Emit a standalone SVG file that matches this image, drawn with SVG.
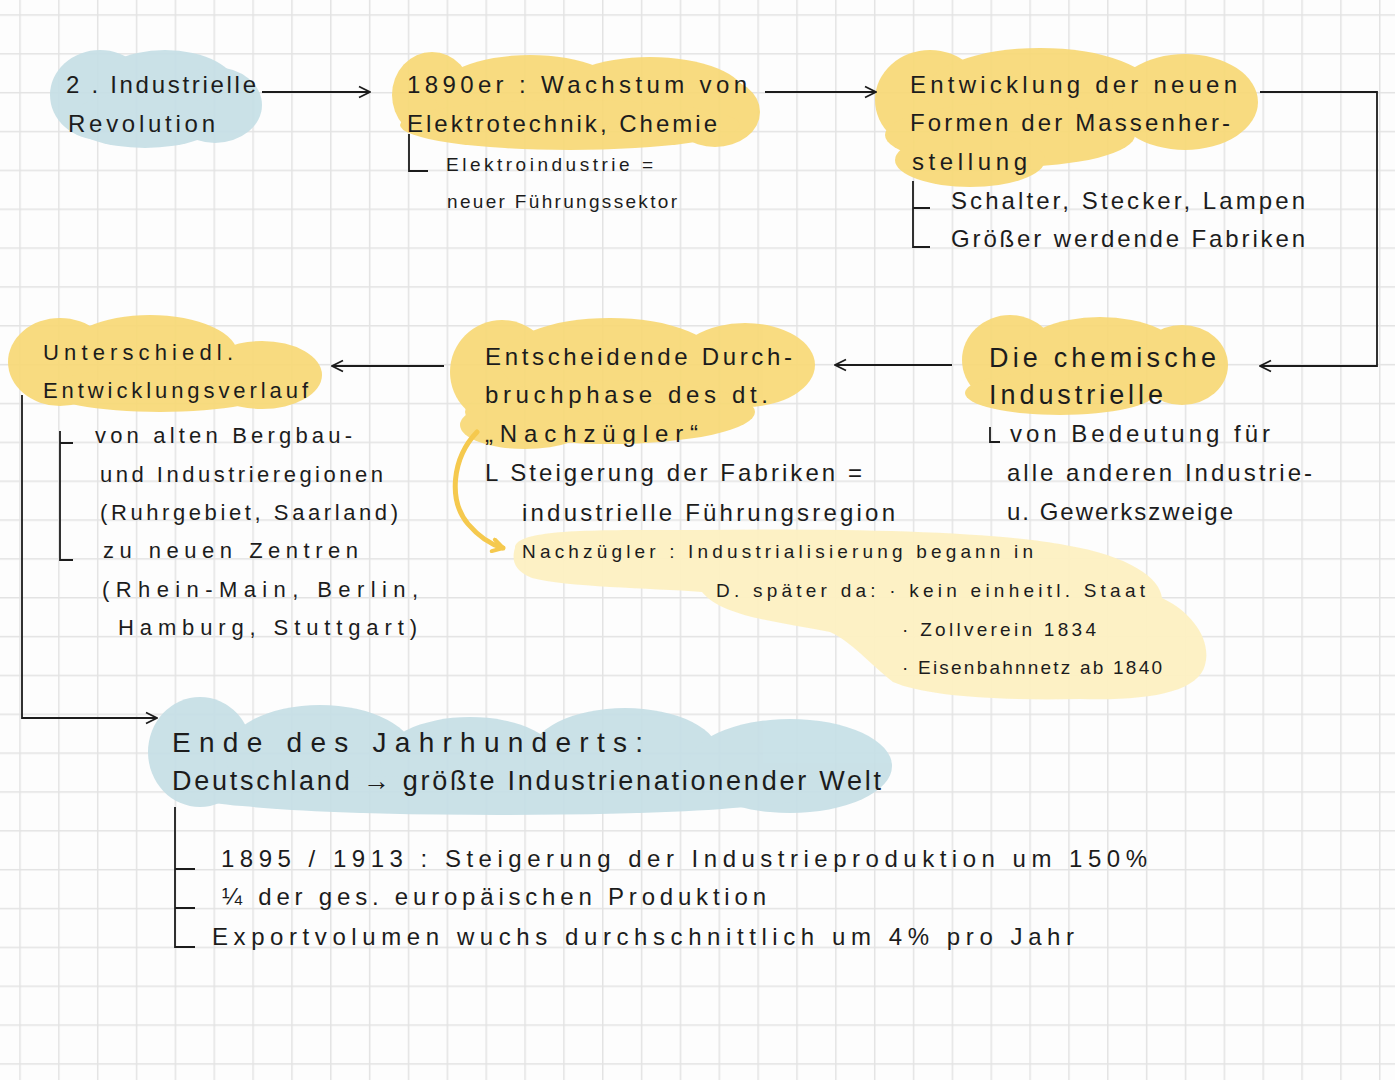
<svg xmlns="http://www.w3.org/2000/svg" width="1395" height="1080" viewBox="0 0 1395 1080">
<style>
text{font-family:"Liberation Sans","DejaVu Sans",sans-serif;fill:#1c1c1c;lengthAdjust:spacing}
.h{font-size:24px}
.s{font-size:22px}
.xs{font-size:19px}
.br{fill:none;stroke:#1c1c1c;stroke-width:1.8}
.con{fill:none;stroke:#1c1c1c;stroke-width:1.8}
.blue ellipse,.blue path{fill:#c6dfe6}
.yel ellipse,.yel path{fill:#f8d976}
.lyel path{fill:#fdf0c2}
</style>
<defs>
<pattern id="grid" width="38.85" height="38.85" patternUnits="userSpaceOnUse" x="19.25" y="14.25">
<path d="M0 0.75H38.85M0.75 0V38.85" stroke="#e3e3e3" stroke-width="1.5" fill="none"/>
</pattern>
<marker id="arr" viewBox="0 0 14 14" refX="13" refY="7" markerWidth="14" markerHeight="14" markerUnits="userSpaceOnUse" orient="auto">
<path d="M2 1.5L13 7L2 12.5" fill="none" stroke="#1c1c1c" stroke-width="1.8"/>
</marker>
<marker id="arrY" viewBox="0 0 16 16" refX="13" refY="8" markerWidth="16" markerHeight="16" markerUnits="userSpaceOnUse" orient="auto">
<path d="M3 2L13 8L3 14" fill="none" stroke="#f5c94e" stroke-width="4" stroke-linecap="round" stroke-linejoin="round"/>
</marker>
</defs>
<rect width="1395" height="1080" fill="#fdfdfd"/>
<rect width="1395" height="1080" fill="url(#grid)"/>

<g id="n-revolution">
<g class="blue" opacity="0.92">
<ellipse cx="100" cy="95" rx="50" ry="45"/>
<ellipse cx="165" cy="88" rx="72" ry="38"/>
<ellipse cx="215" cy="105" rx="47" ry="38"/>
<ellipse cx="145" cy="120" rx="75" ry="28"/>
</g>
<text class="h" x="66" y="93" textLength="190">2 . Industrielle</text>
<text class="h" x="68" y="132" textLength="147">Revolution</text>
</g>

<g id="n-1890er">
<g class="yel" opacity="0.92">
<ellipse cx="432" cy="95" rx="40" ry="43"/>
<ellipse cx="530" cy="95" rx="95" ry="40"/>
<ellipse cx="650" cy="95" rx="95" ry="38"/>
<ellipse cx="715" cy="112" rx="45" ry="35"/>
<ellipse cx="570" cy="125" rx="170" ry="25"/>
</g>
<text class="h" x="407" y="93" textLength="340">1890er : Wachstum von</text>
<text class="h" x="407" y="132" textLength="310">Elektrotechnik, Chemie</text>
<path class="br" d="M409 134V171H428"/>
<text class="xs" x="446" y="171" textLength="207">Elektroindustrie =</text>
<text class="xs" x="447" y="208" textLength="230">neuer Führungssektor</text>
</g>

<g id="n-massenherstellung">
<g class="yel" opacity="0.92">
<ellipse cx="930" cy="100" rx="55" ry="50"/>
<ellipse cx="1040" cy="92" rx="115" ry="44"/>
<ellipse cx="1185" cy="102" rx="73" ry="48"/>
<ellipse cx="1010" cy="135" rx="125" ry="32"/>
<ellipse cx="970" cy="160" rx="75" ry="27"/>
</g>
<text class="h" x="910" y="93" textLength="327">Entwicklung der neuen</text>
<text class="h" x="910" y="131" textLength="320">Formen der Massenher-</text>
<text class="h" x="912" y="170" textLength="115">stellung</text>
<path class="br" d="M913 181V247H930M913 208H930"/>
<text class="h" x="951" y="209" textLength="354">Schalter, Stecker, Lampen</text>
<text class="h" x="951" y="247" textLength="354">Größer werdende Fabriken</text>
</g>

<g id="n-chemisch">
<g class="yel" opacity="0.92">
<ellipse cx="1010" cy="360" rx="48" ry="45"/>
<ellipse cx="1100" cy="355" rx="82" ry="38"/>
<ellipse cx="1182" cy="365" rx="46" ry="40"/>
<ellipse cx="1060" cy="393" rx="95" ry="22"/>
</g>
<text style="font-size:27px" x="989" y="367" textLength="227">Die chemische</text>
<text style="font-size:27px" x="989" y="404" textLength="174">Industrielle</text>
<path class="br" d="M990 427V442H1000"/>
<text class="h" x="1010" y="442" textLength="260">von Bedeutung für</text>
<text class="h" x="1007" y="481" textLength="305">alle anderen Industrie-</text>
<text class="h" x="1007" y="520" textLength="226">u. Gewerkszweige</text>
</g>

<g id="n-nachzuegler-info">
<g class="lyel" opacity="0.95">
<path d="M515 548C515 528 600 530 700 530C850 528 1000 532 1065 545C1130 556 1160 578 1162 598C1192 612 1212 640 1205 665C1198 692 1150 701 1080 699C1000 701 925 696 893 682C870 664 852 642 830 632C780 622 722 617 702 592C650 588 565 587 532 578C512 570 512 558 515 548Z"/>
</g>
<text class="xs" x="522" y="558" textLength="511">Nachzügler : Industrialisierung begann in</text>
<text class="xs" x="716" y="597" textLength="429">D. später da: · kein einheitl. Staat</text>
<text class="xs" x="902" y="636" textLength="194">· Zollverein 1834</text>
<text class="xs" x="902" y="674" textLength="260">· Eisenbahnnetz ab 1840</text>
</g>

<g id="n-durchbruch">
<g class="yel" opacity="0.92">
<ellipse cx="502" cy="372" rx="52" ry="52"/>
<ellipse cx="610" cy="362" rx="110" ry="44"/>
<ellipse cx="745" cy="365" rx="70" ry="42"/>
<ellipse cx="610" cy="412" rx="145" ry="32"/>
<ellipse cx="525" cy="425" rx="65" ry="24"/>
</g>
<text class="h" x="485" y="365" textLength="307">Entscheidende Durch-</text>
<text class="h" x="485" y="403" textLength="283">bruchphase des dt.</text>
<text class="h" x="485" y="442" textLength="213">„Nachzügler“</text>
<text class="h" x="485" y="481" textLength="377">L Steigerung der Fabriken =</text>
<text class="h" x="522" y="521" textLength="373">industrielle Führungsregion</text>
<path d="M477 432C452 458 448 500 468 524C480 538 492 545 503 548" fill="none" stroke="#f5c94e" stroke-width="5" stroke-linecap="round" marker-end="url(#arrY)"/>
</g>

<g id="n-entwicklungsverlauf">
<g class="yel" opacity="0.92">
<ellipse cx="60" cy="362" rx="52" ry="44"/>
<ellipse cx="150" cy="355" rx="88" ry="40"/>
<ellipse cx="262" cy="375" rx="60" ry="34"/>
<ellipse cx="160" cy="390" rx="115" ry="22"/>
</g>
<text class="s" x="43" y="360" textLength="190">Unterschiedl.</text>
<text class="s" x="43" y="398" textLength="265">Entwicklungsverlauf</text>
<path class="br" d="M60 431V560H73M60 443H73"/>
<text class="s" x="95" y="443" textLength="257">von alten Bergbau-</text>
<text class="s" x="100" y="482" textLength="283">und Industrieregionen</text>
<text class="s" x="100" y="520" textLength="298">(Ruhrgebiet, Saarland)</text>
<text class="s" x="103" y="558" textLength="255">zu neuen Zentren</text>
<text class="s" x="102" y="597" textLength="316">(Rhein-Main, Berlin,</text>
<text class="s" x="118" y="635" textLength="299">Hamburg, Stuttgart)</text>
</g>

<g id="n-ende">
<g class="blue" opacity="0.92">
<ellipse cx="200" cy="752" rx="52" ry="55"/>
<ellipse cx="320" cy="755" rx="95" ry="50"/>
<ellipse cx="470" cy="762" rx="90" ry="45"/>
<ellipse cx="625" cy="756" rx="95" ry="48"/>
<ellipse cx="790" cy="766" rx="102" ry="47"/>
<ellipse cx="500" cy="795" rx="310" ry="20"/>
</g>
<text style="font-size:28px" x="172" y="752" textLength="471">Ende des Jahrhunderts:</text>
<text style="font-size:27px" x="172" y="790" textLength="709">Deutschland → größte Industrienationender Welt</text>
<path class="br" d="M175 807V947H195M175 869H195M175 908H195"/>
<text class="h" x="221" y="867" textLength="926">1895 / 1913 : Steigerung der Industrieproduktion um 150%</text>
<text class="h" x="222" y="905" textLength="544">¼ der ges. europäischen Produktion</text>
<text class="h" x="212" y="945" textLength="862">Exportvolumen wuchs durchschnittlich um 4% pro Jahr</text>
</g>

<g id="connectors">
<path class="con" d="M262 92H370" marker-end="url(#arr)"/>
<path class="con" d="M765 92H876" marker-end="url(#arr)"/>
<path class="con" d="M1260 92H1377V366H1260" marker-end="url(#arr)"/>
<path class="con" d="M952 365H835" marker-end="url(#arr)"/>
<path class="con" d="M444 366H332" marker-end="url(#arr)"/>
<path class="con" d="M22 395V718H157" marker-end="url(#arr)"/>
</g>
</svg>
